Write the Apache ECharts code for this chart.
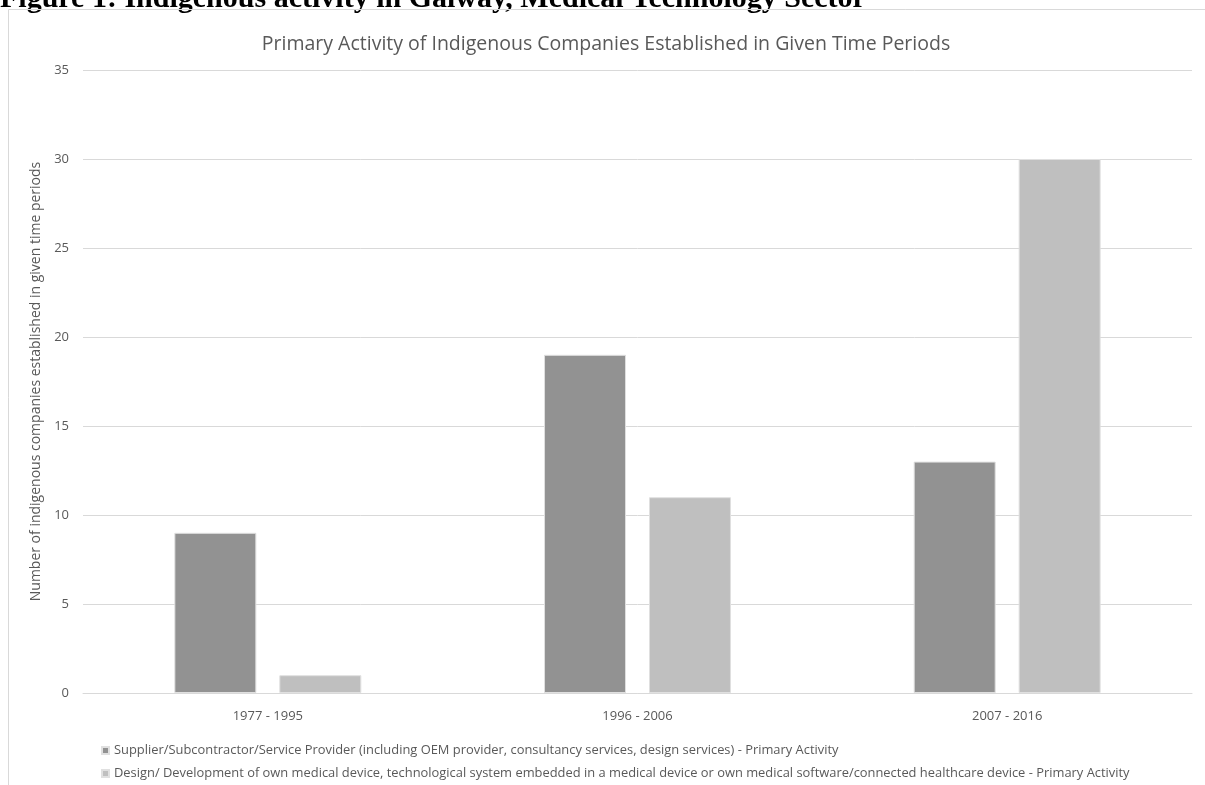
<!DOCTYPE html>
<html>
<head>
<meta charset="utf-8">
<script src="https://cdn.jsdelivr.net/npm/echarts@6/dist/echarts.min.js"></script>
<style>
  html, body { margin: 0; padding: 0; background: #fff; }
  #main { width: 1205px; height: 785px; }
</style>
</head>
<body>
<div id="main"></div>
<script>
// data
const periods = ["1977 - 1995", "1996 - 2006", "2007 - 2016"];
const supplierCounts = [9, 19, 13];
const designCounts = [1, 11, 30];
const seriesNames = [
  "Supplier/Subcontractor/Service Provider (including OEM provider, consultancy services, design services) - Primary Activity",
  "Design/ Development of own medical device, technological system embedded in a medical device or own medical software/connected healthcare device - Primary Activity"
];

const txt = "#595959";
const font = "'Open Sans', sans-serif";

let chart = echarts.init(document.getElementById("main"));

let option = {
  animation: false,
  title: [
    {
      text: "Figure 1: Indigenous activity in Galway, Medical Technology Sector",
      left: 0,
      top: -16,
      padding: 0,
      textStyle: {
        fontFamily: "'Liberation Serif', serif",
        fontWeight: "bold",
        fontSize: 30,
        color: "#000",
      },
    },
    {
      text: "Primary Activity of Indigenous Companies Established in Given Time Periods",
      left: 601,
      textAlign: "center",
      top: 29,
      textStyle: {
        fontFamily: font,
        fontWeight: "normal",
        fontSize: 19.5,
        color: txt,
      },
    },
  ],
  graphic: [
    {
      type: "polyline",
      z: 10,
      shape: { points: [[8.5, 785], [8.5, 9.5], [1205, 9.5]] },
      style: { stroke: "#d9d9d9", lineWidth: 1, fill: null },
    },
  ],
  legend: {
    orient: "vertical",
    left: 96,
    top: 739,
    itemGap: 10,
    itemWidth: 7,
    itemHeight: 7,
    icon: "rect",
    textStyle: {
      fontFamily: font,
      fontSize: 12.9,
      color: txt,
    },
  },
  grid: {
    left: 83,
    right: 13,
    top: 70,
    bottom: 92,
  },
  xAxis: {
    type: "category",
    data: periods,
    axisTick: { show: false },
    axisLine: { lineStyle: { color: "#d9d9d9" } },
    axisLabel: {
      color: txt,
      fontFamily: font,
      fontSize: 13,
      margin: 17,
    },
  },
  yAxis: {
    type: "value",
    min: 0,
    max: 35,
    interval: 5,
    name: "Number of indigenous companies established in given time periods",
    nameLocation: "middle",
    nameGap: 38,
    nameTextStyle: {
      color: txt,
      fontFamily: font,
      fontSize: 14,
    },
    axisLine: { show: false },
    axisTick: { show: false },
    axisLabel: {
      color: txt,
      fontFamily: font,
      fontSize: 13,
      margin: 14,
    },
    splitLine: { lineStyle: { color: "#d9d9d9" } },
  },
  series: [
    {
      name: seriesNames[0],
      type: "bar",
      data: supplierCounts,
      barWidth: 82,
      barGap: "28%",
      itemStyle: { color: "#929292", borderColor: "#e0e0e0", borderWidth: 1 },
    },
    {
      name: seriesNames[1],
      type: "bar",
      data: designCounts,
      barWidth: 82,
      itemStyle: { color: "#bfbfbf", borderColor: "#e0e0e0", borderWidth: 1 },
    },
  ],
};
chart.setOption(option, true);
</script>
</body>
</html>
